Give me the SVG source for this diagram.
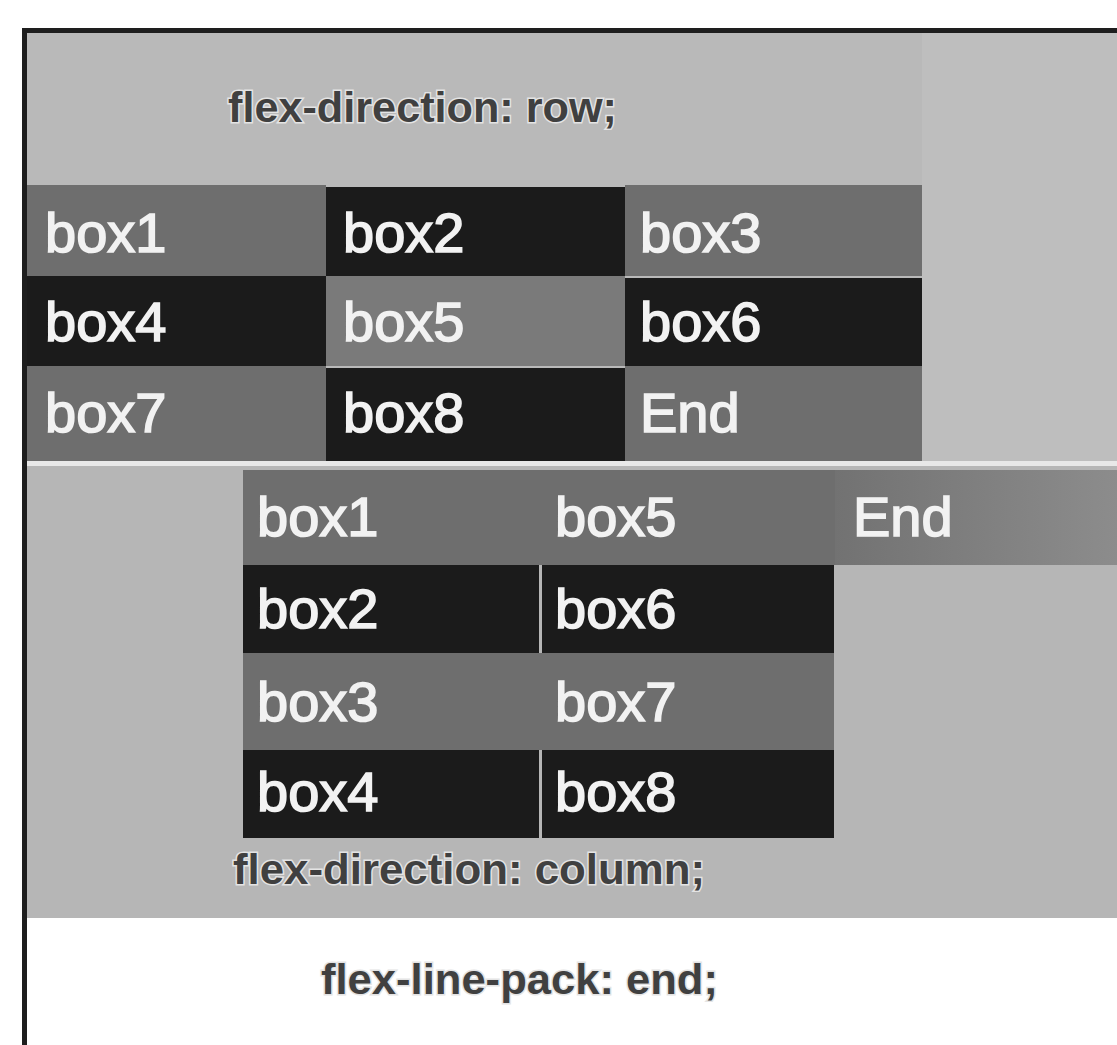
<svg xmlns="http://www.w3.org/2000/svg" width="1117" height="1045" viewBox="0 0 1117 1045">
<style>
.bt{font-family:"Liberation Sans",Arial,sans-serif;font-size:56px;fill:#f2f2f2;stroke:#f2f2f2;stroke-width:1.6}
.lb{font-family:"Liberation Sans",Arial,sans-serif;font-size:43px;font-weight:bold;fill:#404040;stroke:#e4e4e4;stroke-width:3;paint-order:stroke}
.g{fill:#6e6e6e}
.g2{fill:#7a7a7a}
.k{fill:#1b1b1b}
</style>
<defs>
<linearGradient id="endg" x1="0" y1="0" x2="1" y2="0">
<stop offset="0" stop-color="#727272"/>
<stop offset="1" stop-color="#8c8c8c"/>
</linearGradient>
</defs>
<rect x="0" y="0" width="1117" height="1045" fill="#ffffff"/>
<g id="panel-row">
<rect x="27" y="33" width="1090" height="428" fill="#b9b9b9"/>
<rect x="922" y="33" width="195" height="428" fill="#bebebe"/>
</g>
<rect x="27" y="461" width="1090" height="5" fill="#e8e8e8"/>
<g id="panel-column">
<rect x="27" y="466" width="1090" height="452" fill="#b6b6b6"/>
</g>
<g id="border">
<rect x="22" y="28" width="5" height="1017" fill="#1e1e1e"/>
<rect x="22" y="28" width="1095" height="5" fill="#1e1e1e"/>
</g>
<g id="label-row"><text class="lb" x="228" y="122" textLength="389" lengthAdjust="spacingAndGlyphs">flex-direction: row;</text></g>
<g id="row-box1"><rect class="g" x="27" y="185" width="299" height="91"/><text class="bt" x="45" y="252">box1</text></g>
<g id="row-box2"><rect class="k" x="326" y="187" width="299" height="89"/><text class="bt" x="343" y="252">box2</text></g>
<g id="row-box3"><rect class="g" x="625" y="185" width="297" height="91"/><text class="bt" x="640" y="252">box3</text></g>
<g id="row-box4"><rect class="k" x="27" y="276" width="299" height="90"/><text class="bt" x="45" y="341">box4</text></g>
<g id="row-box5"><rect class="g2" x="326" y="276" width="299" height="90"/><text class="bt" x="343" y="341">box5</text></g>
<g id="row-box6"><rect class="k" x="625" y="278" width="297" height="88"/><text class="bt" x="640" y="341">box6</text></g>
<g id="row-box7"><rect class="g" x="27" y="366" width="299" height="95"/><text class="bt" x="45" y="432">box7</text></g>
<g id="row-box8"><rect class="k" x="326" y="368" width="299" height="93"/><text class="bt" x="343" y="432">box8</text></g>
<g id="row-end"><rect class="g" x="625" y="366" width="297" height="95"/><text class="bt" x="640" y="432">End</text></g>
<g id="col-box1"><rect class="g" x="243" y="470" width="297" height="95"/><text class="bt" x="257" y="536">box1</text></g>
<g id="col-box5"><rect class="g" x="540" y="470" width="295" height="95"/><text class="bt" x="555" y="536">box5</text></g>
<g id="col-end"><rect x="835" y="470" width="282" height="95" fill="url(#endg)"/><text class="bt" x="853" y="536">End</text></g>
<g id="col-box2"><rect class="k" x="243" y="565" width="296" height="88"/><text class="bt" x="257" y="628">box2</text></g>
<g id="col-box6"><rect class="k" x="542" y="565" width="292" height="88"/><text class="bt" x="555" y="628">box6</text></g>
<g id="col-box3"><rect class="g" x="243" y="653" width="297" height="97"/><text class="bt" x="257" y="721">box3</text></g>
<g id="col-box7"><rect class="g" x="540" y="653" width="294" height="97"/><text class="bt" x="555" y="721">box7</text></g>
<g id="col-box4"><rect class="k" x="243" y="750" width="296" height="88"/><text class="bt" x="257" y="811">box4</text></g>
<g id="col-box8"><rect class="k" x="542" y="750" width="292" height="88"/><text class="bt" x="555" y="811">box8</text></g>
<g id="label-column"><text class="lb" x="233" y="884" textLength="472" lengthAdjust="spacingAndGlyphs">flex-direction: column;</text></g>
<g id="label-pack"><text class="lb" x="321" y="994" textLength="397" lengthAdjust="spacingAndGlyphs">flex-line-pack: end;</text></g>
<g id="connectors"></g>
</svg>
